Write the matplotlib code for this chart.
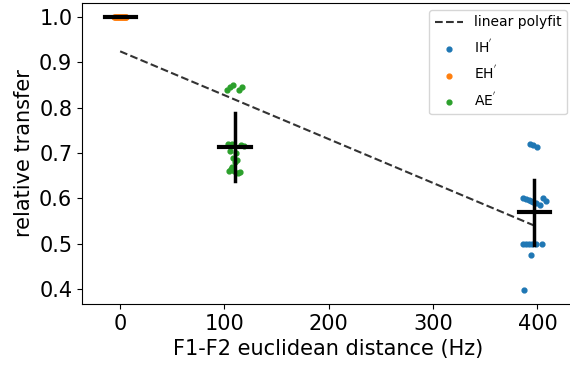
import numpy as np
import matplotlib.pyplot as plt

# condition positions on the x axis (F1-F2 distance, Hz)
conditions = ["IH$^{'}$", "EH$^{'}$", "AE$^{'}$"]
distances = [397, 0, 110]
colors = ["tab:blue", "tab:orange", "tab:green"]

# per-subject relative transfer values
ih_values = [0.72, 0.717, 0.713, 0.60, 0.598, 0.596, 0.594, 0.592, 0.59, 0.60, 0.595,
             0.585, 0.50, 0.50, 0.50, 0.50, 0.50, 0.50, 0.475, 0.397]
ih_jitter = [-4, -1, 3, -11, -8, -5, -3, -1, 2, 8, 11,
             5, -11, -8, -5, -2, 2, 7, -3, -10]
eh_values = [1.0] * 20
eh_jitter = [-6, -5, -4, -3, -2, -1, 0, 1, 2, 3, 4, 5, 6, -5, -3, -1, 1, 3, 5, 6]
ae_values = [0.84, 0.845, 0.85, 0.84, 0.845, 0.72, 0.72, 0.718, 0.715, 0.705,
             0.69, 0.68, 0.665, 0.66, 0.66, 0.655, 0.658, 0.67, 0.685, 0.70]
ae_jitter = [-8, -5, -2, 4, 7, -7, -3, 6, 9, -5,
             -2, 0, -4, -6, -1, 3, 5, -3, 2, 1]

# group means and standard deviations
means = [0.569, 1.0, 0.713]
stds = [0.072, 0.0, 0.075]

values = [ih_values, eh_values, ae_values]
jitters = [ih_jitter, eh_jitter, ae_jitter]

fig, ax = plt.subplots(figsize=(5.7, 3.65), dpi=100)
fig.subplots_adjust(left=0.144, right=1.007, top=0.992, bottom=0.167)

# linear fit through the group means
order = np.argsort(distances)
xs = np.array(distances)[order]
ys = np.array(means)[order]
coef = np.polyfit(xs, ys, 1)
ax.plot(xs, np.polyval(coef, xs), '--', color='#333333', lw=1.5, label='linear polyfit', zorder=1)

for name, d, c, v, j in zip(conditions, distances, colors, values, jitters):
    ax.scatter(np.array(j) + d, v, s=12, color=c, label=name, zorder=2)

# mean and std crosses
for d, m, s in zip(distances, means, stds):
    ax.plot([d - 15, d + 15], [m, m], color='black', lw=3, zorder=3)
    if s > 0:
        ax.plot([d, d], [m - s, m + s], color='black', lw=2.5, zorder=3)

ax.set_xlim(-36.5, 435)
ax.set_ylim(0.367, 1.031)
ax.set_xticks([0, 100, 200, 300, 400])
ax.set_yticks([0.4, 0.5, 0.6, 0.7, 0.8, 0.9, 1.0])
ax.tick_params(labelsize=15)
ax.set_xlabel('F1-F2 euclidean distance (Hz)', fontsize=15)
ax.set_ylabel('relative transfer', fontsize=15)
ax.legend(loc='upper right', fontsize=10, labelspacing=0.65)

plt.savefig('out.png', dpi=100)
